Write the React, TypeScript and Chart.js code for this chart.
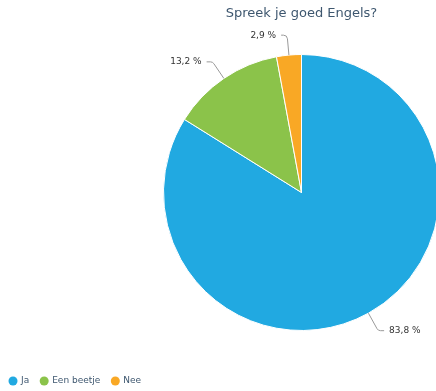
import React, { useEffect, useRef } from "react";
import { Chart, registerables } from "chart.js";

Chart.register(...registerables);

const TITLE = "Spreek je goed Engels?";
const categories = ["Ja", "Een beetje", "Nee"];
const values = [83.8, 13.2, 2.9];
const valueLabels = ["83,8 %", "13,2 %", "2,9 %"];
const colors = ["#21a9e1", "#8bc34a", "#f9a825"];

const FONT = "'DejaVu Sans', Verdana, sans-serif";
const TEXT_COLOR = "#3e576f";

const overlayPlugin = {
  id: "overlay",
  afterDatasetsDraw(chart: any) {
    const ctx = chart.ctx as CanvasRenderingContext2D;
    const meta = chart.getDatasetMeta(0);
    const arcs = meta.data as any[];
    if (!arcs.length) return;
    const cx = arcs[0].x;
    const cy = arcs[0].y;
    const r = arcs[0].outerRadius;

    // Title
    ctx.save();
    ctx.font = `13px ${FONT}`;
    ctx.fillStyle = TEXT_COLOR;
    ctx.textAlign = "center";
    ctx.textBaseline = "middle";
    ctx.fillText(TITLE, cx, 14);
    ctx.restore();

    // Data labels with connectors
    arcs.forEach((arc, i) => {
      const mid = (arc.startAngle + arc.endAngle) / 2;
      const cos = Math.cos(mid);
      const sin = Math.sin(mid);
      const ex = cx + r * cos;
      const ey = cy + r * sin;
      const d = 20;
      const bx = cx + (r + d) * cos;
      const by = cy + (r + d) * sin;
      const dir = cos >= 0 ? 1 : -1;
      const ax = bx + dir * 6;
      ctx.save();
      ctx.strokeStyle = "#999999";
      ctx.lineWidth = 1;
      ctx.beginPath();
      ctx.moveTo(ex, ey);
      ctx.arcTo(bx, by, ax, by, 4);
      ctx.lineTo(ax, by);
      ctx.stroke();
      ctx.font = `9px ${FONT}`;
      ctx.fillStyle = "#333333";
      ctx.textBaseline = "middle";
      ctx.textAlign = dir > 0 ? "left" : "right";
      ctx.fillText(valueLabels[i], ax + dir * 5, by);
      ctx.restore();
    });

    // Legend
    ctx.save();
    ctx.font = `9px ${FONT}`;
    ctx.textBaseline = "middle";
    ctx.textAlign = "left";
    let mx = 13;
    const ly = 381;
    categories.forEach((c, i) => {
      ctx.fillStyle = colors[i];
      ctx.beginPath();
      ctx.arc(mx, ly, 4.5, 0, Math.PI * 2);
      ctx.fill();
      ctx.fillStyle = TEXT_COLOR;
      const tx = mx + 8;
      ctx.fillText(c, tx, ly);
      mx = tx + ctx.measureText(c).width + 15;
    });
    ctx.restore();
  },
};

export default function App() {
  const ref = useRef<HTMLCanvasElement | null>(null);
  useEffect(() => {
    document.documentElement.style.overflow = "hidden";
    document.body.style.overflow = "hidden";
    const canvas = ref.current;
    if (!canvas) return;
    const chart = new Chart(canvas, {
      type: "pie",
      data: {
        labels: categories,
        datasets: [
          {
            data: values,
            backgroundColor: colors,
            borderColor: "#ffffff",
            borderWidth: 1,
          },
        ],
      },
      options: {
        responsive: false,
        animation: false,
        devicePixelRatio: 1,
        layout: { padding: { left: 163, top: 54, right: 10, bottom: 60 } },
        plugins: {
          legend: { display: false },
          title: { display: false },
          tooltip: { enabled: false },
        },
      },
      plugins: [overlayPlugin],
    });
    return () => chart.destroy();
  }, []);
  return (
    <div style={{ position: "fixed", left: 0, top: 0, width: 450, height: 391, background: "#fff" }}>
      <canvas ref={ref} width={450} height={391} style={{ width: 450, height: 391, display: "block" }} />
    </div>
  );
}
